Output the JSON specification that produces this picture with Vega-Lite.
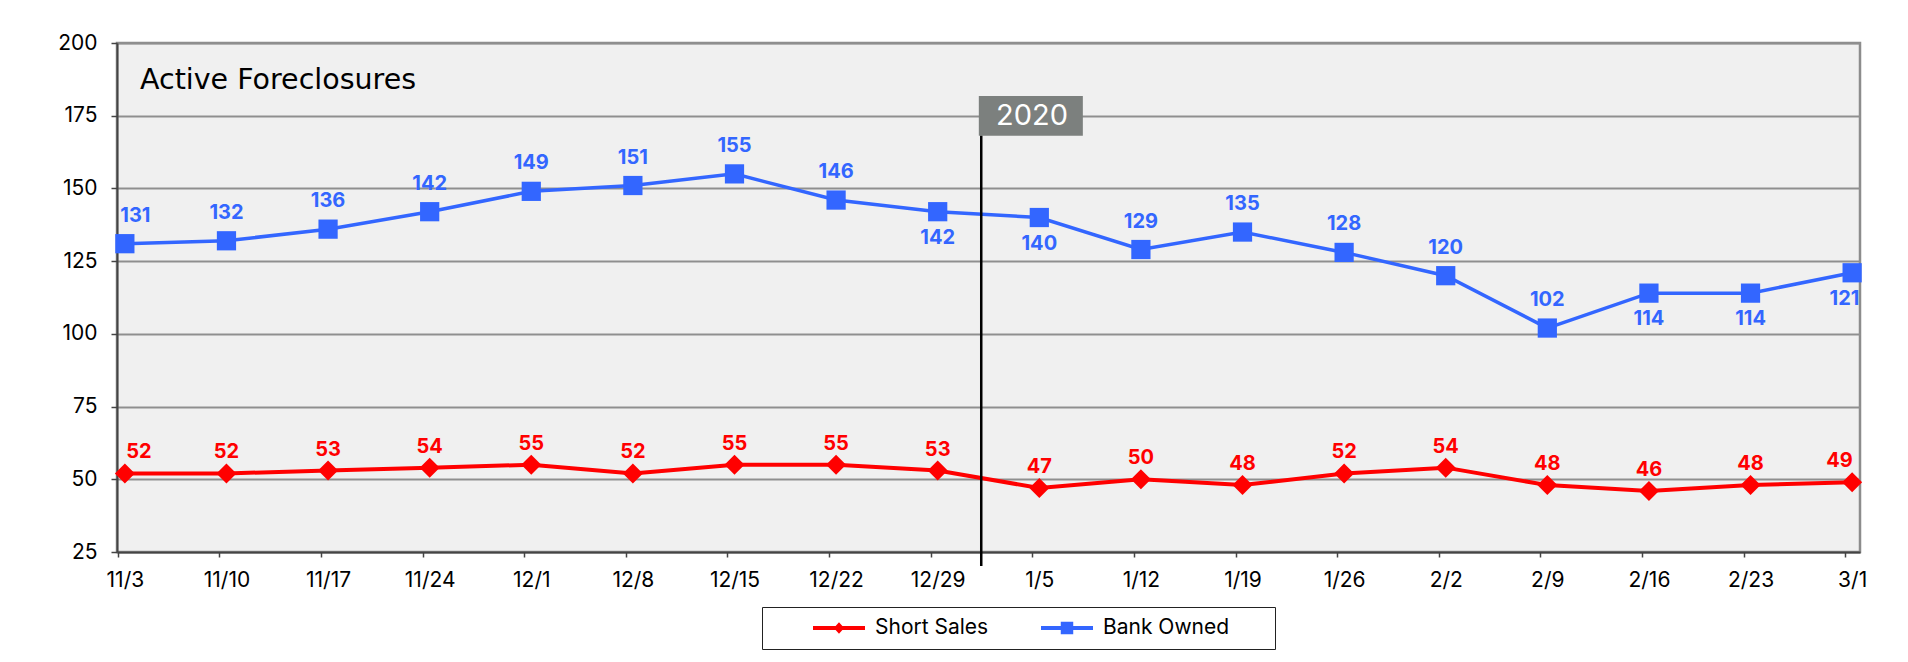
{
  "$schema": "https://vega.github.io/schema/vega-lite/v6.json",
  "width": 1743,
  "height": 509,
  "autosize": {"type": "none"},
  "padding": {"left": 117, "top": 43, "right": 48, "bottom": 110},
  "background": "white",
  "config": {
    "font": "Inter",
    "view": {"fill": "#f0f0f0", "stroke": "#8c8c8c", "strokeWidth": 2.5}
  },
  "title": {
    "text": "Active Foreclosures",
    "anchor": "start",
    "frame": "group",
    "orient": "top",
    "offset": -85,
    "dx": 23,
    "baseline": "alphabetic",
    "fontSize": 28.5,
    "fontWeight": "normal",
    "font": "DejaVu Sans",
    "color": "#000000"
  },
  "layer": [
    {
      "data": {
        "values": [
          {"date": "2019-11-03", "series": "Bank Owned", "value": 131},
          {"date": "2019-11-10", "series": "Bank Owned", "value": 132},
          {"date": "2019-11-17", "series": "Bank Owned", "value": 136},
          {"date": "2019-11-24", "series": "Bank Owned", "value": 142},
          {"date": "2019-12-01", "series": "Bank Owned", "value": 149},
          {"date": "2019-12-08", "series": "Bank Owned", "value": 151},
          {"date": "2019-12-15", "series": "Bank Owned", "value": 155},
          {"date": "2019-12-22", "series": "Bank Owned", "value": 146},
          {"date": "2019-12-29", "series": "Bank Owned", "value": 142},
          {"date": "2020-01-05", "series": "Bank Owned", "value": 140},
          {"date": "2020-01-12", "series": "Bank Owned", "value": 129},
          {"date": "2020-01-19", "series": "Bank Owned", "value": 135},
          {"date": "2020-01-26", "series": "Bank Owned", "value": 128},
          {"date": "2020-02-02", "series": "Bank Owned", "value": 120},
          {"date": "2020-02-09", "series": "Bank Owned", "value": 102},
          {"date": "2020-02-16", "series": "Bank Owned", "value": 114},
          {"date": "2020-02-23", "series": "Bank Owned", "value": 114},
          {"date": "2020-03-01", "series": "Bank Owned", "value": 121},
          {"date": "2019-11-03", "series": "Short Sales", "value": 52},
          {"date": "2019-11-10", "series": "Short Sales", "value": 52},
          {"date": "2019-11-17", "series": "Short Sales", "value": 53},
          {"date": "2019-11-24", "series": "Short Sales", "value": 54},
          {"date": "2019-12-01", "series": "Short Sales", "value": 55},
          {"date": "2019-12-08", "series": "Short Sales", "value": 52},
          {"date": "2019-12-15", "series": "Short Sales", "value": 55},
          {"date": "2019-12-22", "series": "Short Sales", "value": 55},
          {"date": "2019-12-29", "series": "Short Sales", "value": 53},
          {"date": "2020-01-05", "series": "Short Sales", "value": 47},
          {"date": "2020-01-12", "series": "Short Sales", "value": 50},
          {"date": "2020-01-19", "series": "Short Sales", "value": 48},
          {"date": "2020-01-26", "series": "Short Sales", "value": 52},
          {"date": "2020-02-02", "series": "Short Sales", "value": 54},
          {"date": "2020-02-09", "series": "Short Sales", "value": 48},
          {"date": "2020-02-16", "series": "Short Sales", "value": 46},
          {"date": "2020-02-23", "series": "Short Sales", "value": 48},
          {"date": "2020-03-01", "series": "Short Sales", "value": 49}
        ]
      },
      "encoding": {
        "x": {
          "field": "date",
          "type": "temporal",
          "scale": {
            "type": "utc",
            "domain": [
              {"year": 2019, "month": 11, "date": 2, "hours": 11, "utc": true},
              {"year": 2020, "month": 3, "date": 1, "hours": 13, "utc": true}
            ]
          },
          "axis": {
            "title": null,
            "values": [
              {"year": 2019, "month": 11, "date": 3, "utc": true},
              {"year": 2019, "month": 11, "date": 10, "utc": true},
              {"year": 2019, "month": 11, "date": 17, "utc": true},
              {"year": 2019, "month": 11, "date": 24, "utc": true},
              {"year": 2019, "month": 12, "date": 1, "utc": true},
              {"year": 2019, "month": 12, "date": 8, "utc": true},
              {"year": 2019, "month": 12, "date": 15, "utc": true},
              {"year": 2019, "month": 12, "date": 22, "utc": true},
              {"year": 2019, "month": 12, "date": 29, "utc": true},
              {"year": 2020, "month": 1, "date": 5, "utc": true},
              {"year": 2020, "month": 1, "date": 12, "utc": true},
              {"year": 2020, "month": 1, "date": 19, "utc": true},
              {"year": 2020, "month": 1, "date": 26, "utc": true},
              {"year": 2020, "month": 2, "date": 2, "utc": true},
              {"year": 2020, "month": 2, "date": 9, "utc": true},
              {"year": 2020, "month": 2, "date": 16, "utc": true},
              {"year": 2020, "month": 2, "date": 23, "utc": true},
              {"year": 2020, "month": 3, "date": 1, "utc": true}
            ],
            "format": "%-m/%-d",
            "grid": false,
            "tickSize": 5,
            "tickColor": "#444444",
            "tickWidth": 1.5,
            "tickOffset": -7,
            "labelOffset": 7,
            "labelFontSize": 21,
            "labelColor": "#000000",
            "labelPadding": 12,
            "labelOverlap": false,
            "labelFlush": false,
            "labelBound": false,
            "domainColor": "#444444",
            "domainWidth": 2
          }
        },
        "y": {
          "field": "value",
          "type": "quantitative",
          "scale": {"domain": [25, 200], "nice": false, "zero": false},
          "axis": {
            "title": null,
            "values": [25, 50, 75, 100, 125, 150, 175, 200],
            "grid": true,
            "gridColor": "#8f8f8f",
            "gridWidth": 2,
            "tickSize": 6,
            "tickColor": "#444444",
            "tickWidth": 1.5,
            "labelFontSize": 21,
            "labelColor": "#000000",
            "labelPadding": 14,
            "labelFlush": false,
            "domainColor": "#444444",
            "domainWidth": 2
          }
        },
        "color": {
          "field": "series",
          "type": "nominal",
          "scale": {"domain": ["Short Sales", "Bank Owned"], "range": ["#ff0000", "#3366ff"]},
          "legend": {
            "title": "\u200b\u00a0\u00a0\u00a0\u00a0\u00a0\u00a0\u00a0\u00a0\u200b",
            "titleOrient": "left",
            "titlePadding": 3,
            "titleFontSize": 20,
            "titleFont": "Inter",
            "orient": "none",
            "legendX": 645,
            "legendY": 564,
            "direction": "horizontal",
            "padding": 10,
            "strokeColor": "#222222",
            "fillColor": "#ffffff",
            "labelFont": "Inter",
            "labelFontSize": 21,
            "labelColor": "#000000",
            "labelOffset": 10,
            "labelLimit": 400,
            "columnPadding": 52,
            "symbolSize": 2704,
            "symbolStrokeWidth": 0,
            "symbolOpacity": 1,
            "clipHeight": 22,
            "labelExpr": "datum.label === 'Bank Owned' ? 'Bank Owned\u00a0\u00a0\u00a0\u00a0\u00a0\u00a0\u200b' : datum.label"
          }
        }
      },
      "layer": [
        {
          "transform": [{"filter": "datum.series === 'Short Sales'"}],
          "mark": {"type": "line", "strokeWidth": 4}
        },
        {
          "transform": [{"filter": "datum.series === 'Bank Owned'"}],
          "mark": {"type": "line", "strokeWidth": 3.5}
        },
        {
          "transform": [{"filter": "datum.series === 'Short Sales'"}],
          "mark": {"type": "point", "filled": true, "opacity": 1, "size": 400, "shape": "diamond"}
        },
        {
          "transform": [{"filter": "datum.series === 'Bank Owned'"}],
          "mark": {"type": "point", "filled": true, "opacity": 1, "size": 370, "shape": "square"}
        },
        {
          "mark": {"type": "point", "filled": true, "opacity": 0},
          "encoding": {
            "shape": {
              "field": "series",
              "type": "nominal",
              "scale": {
                "domain": ["Short Sales", "Bank Owned"],
                "range": [
                  "M-1,-0.077H1V0.077H-1ZM0,-0.22L0.2,0L0,0.22L-0.2,0Z",
                  "M-1,-0.077H1V0.077H-1ZM-0.24,-0.24H0.24V0.24H-0.24Z"
                ]
              },
              "legend": {
                "title": "\u200b\u00a0\u00a0\u00a0\u00a0\u00a0\u00a0\u00a0\u00a0\u200b",
                "titleOrient": "left",
                "titlePadding": 3,
                "titleFontSize": 20,
                "titleFont": "Inter",
                "orient": "none",
                "legendX": 645,
                "legendY": 564,
                "direction": "horizontal",
                "padding": 10,
                "strokeColor": "#222222",
                "fillColor": "#ffffff",
                "labelFont": "Inter",
                "labelFontSize": 21,
                "labelColor": "#000000",
                "labelOffset": 10,
                "labelLimit": 400,
                "columnPadding": 52,
                "symbolSize": 2704,
                "symbolStrokeWidth": 0,
                "symbolOpacity": 1,
                "clipHeight": 22,
                "labelExpr": "datum.label === 'Bank Owned' ? 'Bank Owned\u00a0\u00a0\u00a0\u00a0\u00a0\u00a0\u200b' : datum.label"
              }
            }
          }
        },
        {
          "transform": [{"filter": "datum.series === 'Bank Owned' && indexof(['2019-11-03','2019-12-29','2020-01-05','2020-02-16','2020-02-23','2020-03-01'], utcFormat(datum.date, '%Y-%m-%d')) < 0"}],
          "mark": {"type": "text", "fontWeight": "bold", "fontSize": 20, "dy": -28, "baseline": "middle"},
          "encoding": {"text": {"field": "value", "type": "quantitative"}}
        },
        {
          "transform": [{"filter": "datum.series === 'Bank Owned' && utcFormat(datum.date, '%Y-%m-%d') === '2019-11-03'"}],
          "mark": {"type": "text", "fontWeight": "bold", "fontSize": 20, "dy": -28, "dx": 10.5, "baseline": "middle"},
          "encoding": {"text": {"field": "value", "type": "quantitative"}}
        },
        {
          "transform": [{"filter": "datum.series === 'Bank Owned' && indexof(['2019-12-29','2020-01-05','2020-02-16','2020-02-23'], utcFormat(datum.date, '%Y-%m-%d')) >= 0"}],
          "mark": {"type": "text", "fontWeight": "bold", "fontSize": 20, "dy": 26, "baseline": "middle"},
          "encoding": {"text": {"field": "value", "type": "quantitative"}}
        },
        {
          "transform": [{"filter": "datum.series === 'Bank Owned' && utcFormat(datum.date, '%Y-%m-%d') === '2020-03-01'"}],
          "mark": {"type": "text", "fontWeight": "bold", "fontSize": 20, "dy": 26, "dx": -7.6, "baseline": "middle"},
          "encoding": {"text": {"field": "value", "type": "quantitative"}}
        },
        {
          "transform": [{"filter": "datum.series === 'Short Sales' && indexof(['2019-11-03','2020-03-01'], utcFormat(datum.date, '%Y-%m-%d')) < 0"}],
          "mark": {"type": "text", "fontWeight": "bold", "fontSize": 20, "dy": -21, "baseline": "middle"},
          "encoding": {"text": {"field": "value", "type": "quantitative"}}
        },
        {
          "transform": [{"filter": "datum.series === 'Short Sales' && utcFormat(datum.date, '%Y-%m-%d') === '2019-11-03'"}],
          "mark": {"type": "text", "fontWeight": "bold", "fontSize": 20, "dy": -21, "dx": 14, "baseline": "middle"},
          "encoding": {"text": {"field": "value", "type": "quantitative"}}
        },
        {
          "transform": [{"filter": "datum.series === 'Short Sales' && utcFormat(datum.date, '%Y-%m-%d') === '2020-03-01'"}],
          "mark": {"type": "text", "fontWeight": "bold", "fontSize": 20, "dy": -21, "dx": -12.7, "baseline": "middle"},
          "encoding": {"text": {"field": "value", "type": "quantitative"}}
        }
      ]
    },
    {
      "data": {"values": [{"label": "2020"}]},
      "mark": {"type": "rect", "color": "#7c807e"},
      "encoding": {
        "x": {"datum": {"year": 2019, "month": 12, "date": 31, "hours": 20, "utc": true}, "type": "temporal"},
        "x2": {"datum": {"year": 2020, "month": 1, "date": 8, "utc": true}},
        "y": {"datum": 181.8, "type": "quantitative"},
        "y2": {"datum": 168.1}
      }
    },
    {
      "data": {"values": [{"label": "2020"}]},
      "mark": {"type": "rule", "strokeWidth": 2.5, "color": "#000000"},
      "encoding": {
        "x": {"datum": {"year": 2020, "month": 1, "date": 1, "utc": true}, "type": "temporal"},
        "y": {"datum": 168.1, "type": "quantitative"},
        "y2": {"datum": 20.2}
      }
    },
    {
      "data": {"values": [{"label": "2020"}]},
      "mark": {"type": "text", "fontSize": 29, "baseline": "middle", "align": "center", "color": "#ffffff"},
      "encoding": {
        "x": {"datum": {"year": 2020, "month": 1, "date": 4, "hours": 12, "utc": true}, "type": "temporal"},
        "y": {"datum": 174.8, "type": "quantitative"},
        "text": {"field": "label", "type": "nominal"}
      }
    }
  ]
}
